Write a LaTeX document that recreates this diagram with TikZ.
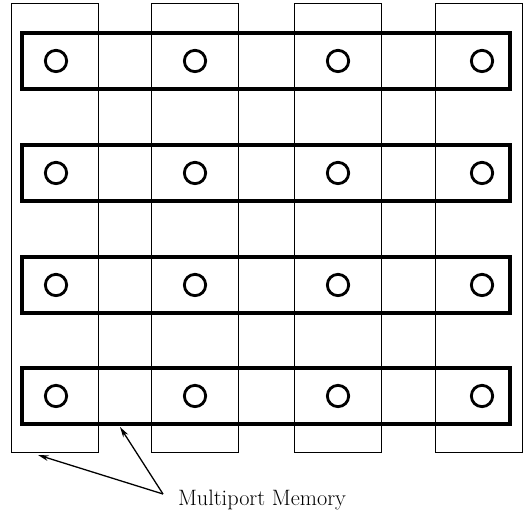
\documentclass[tikz,border=0pt]{standalone}
\usepackage{tikz}
\usetikzlibrary{arrows.meta}

\begin{document}
\begin{tikzpicture}[
        x=0.03cm, y=-0.03cm,
        bank/.style={draw, line width=0.9pt, minimum width=2.6cm, minimum height=13.47cm, inner sep=0pt},
        bus/.style={draw, line width=2.6pt, minimum width=14.64cm, minimum height=1.68cm, inner sep=0pt},
        port/.style={draw, circle, line width=2.4pt, minimum size=0.64cm, inner sep=0pt},
        pointer/.style={-{Stealth[length=3.2mm, width=1.7mm]}, line width=1.1pt}
    ]
        \useasboundingbox (0,0) rectangle (527,515);
        % memory banks
        \node[bank] (bank1) at (55,228) {};
        \node[bank] (bank2) at (195,228) {};
        \node[bank] (bank3) at (338,228) {};
        \node[bank] (bank4) at (479,228) {};
        % rows of processors
        \foreach \r/\y in {1/61, 2/173, 3/285, 4/396} {
            \node[bus] (row\r) at (266,\y) {};
            \foreach \c/\x in {1/56, 2/195, 3/338, 4/482}
                \node[port] (p\r\c) at (\x,\y) {};
        }
        \node[font=\fontsize{19}{23}\selectfont] (label) at (262,500) {Multiport Memory};
        \coordinate (fork) at (163,494);
        \coordinate (tipA) at (38,455);
        \coordinate (tipB) at (120,427);
        \draw[pointer] (fork) -- (tipA);
        \draw[pointer] (fork) -- (tipB);
    \end{tikzpicture}
\end{document}
